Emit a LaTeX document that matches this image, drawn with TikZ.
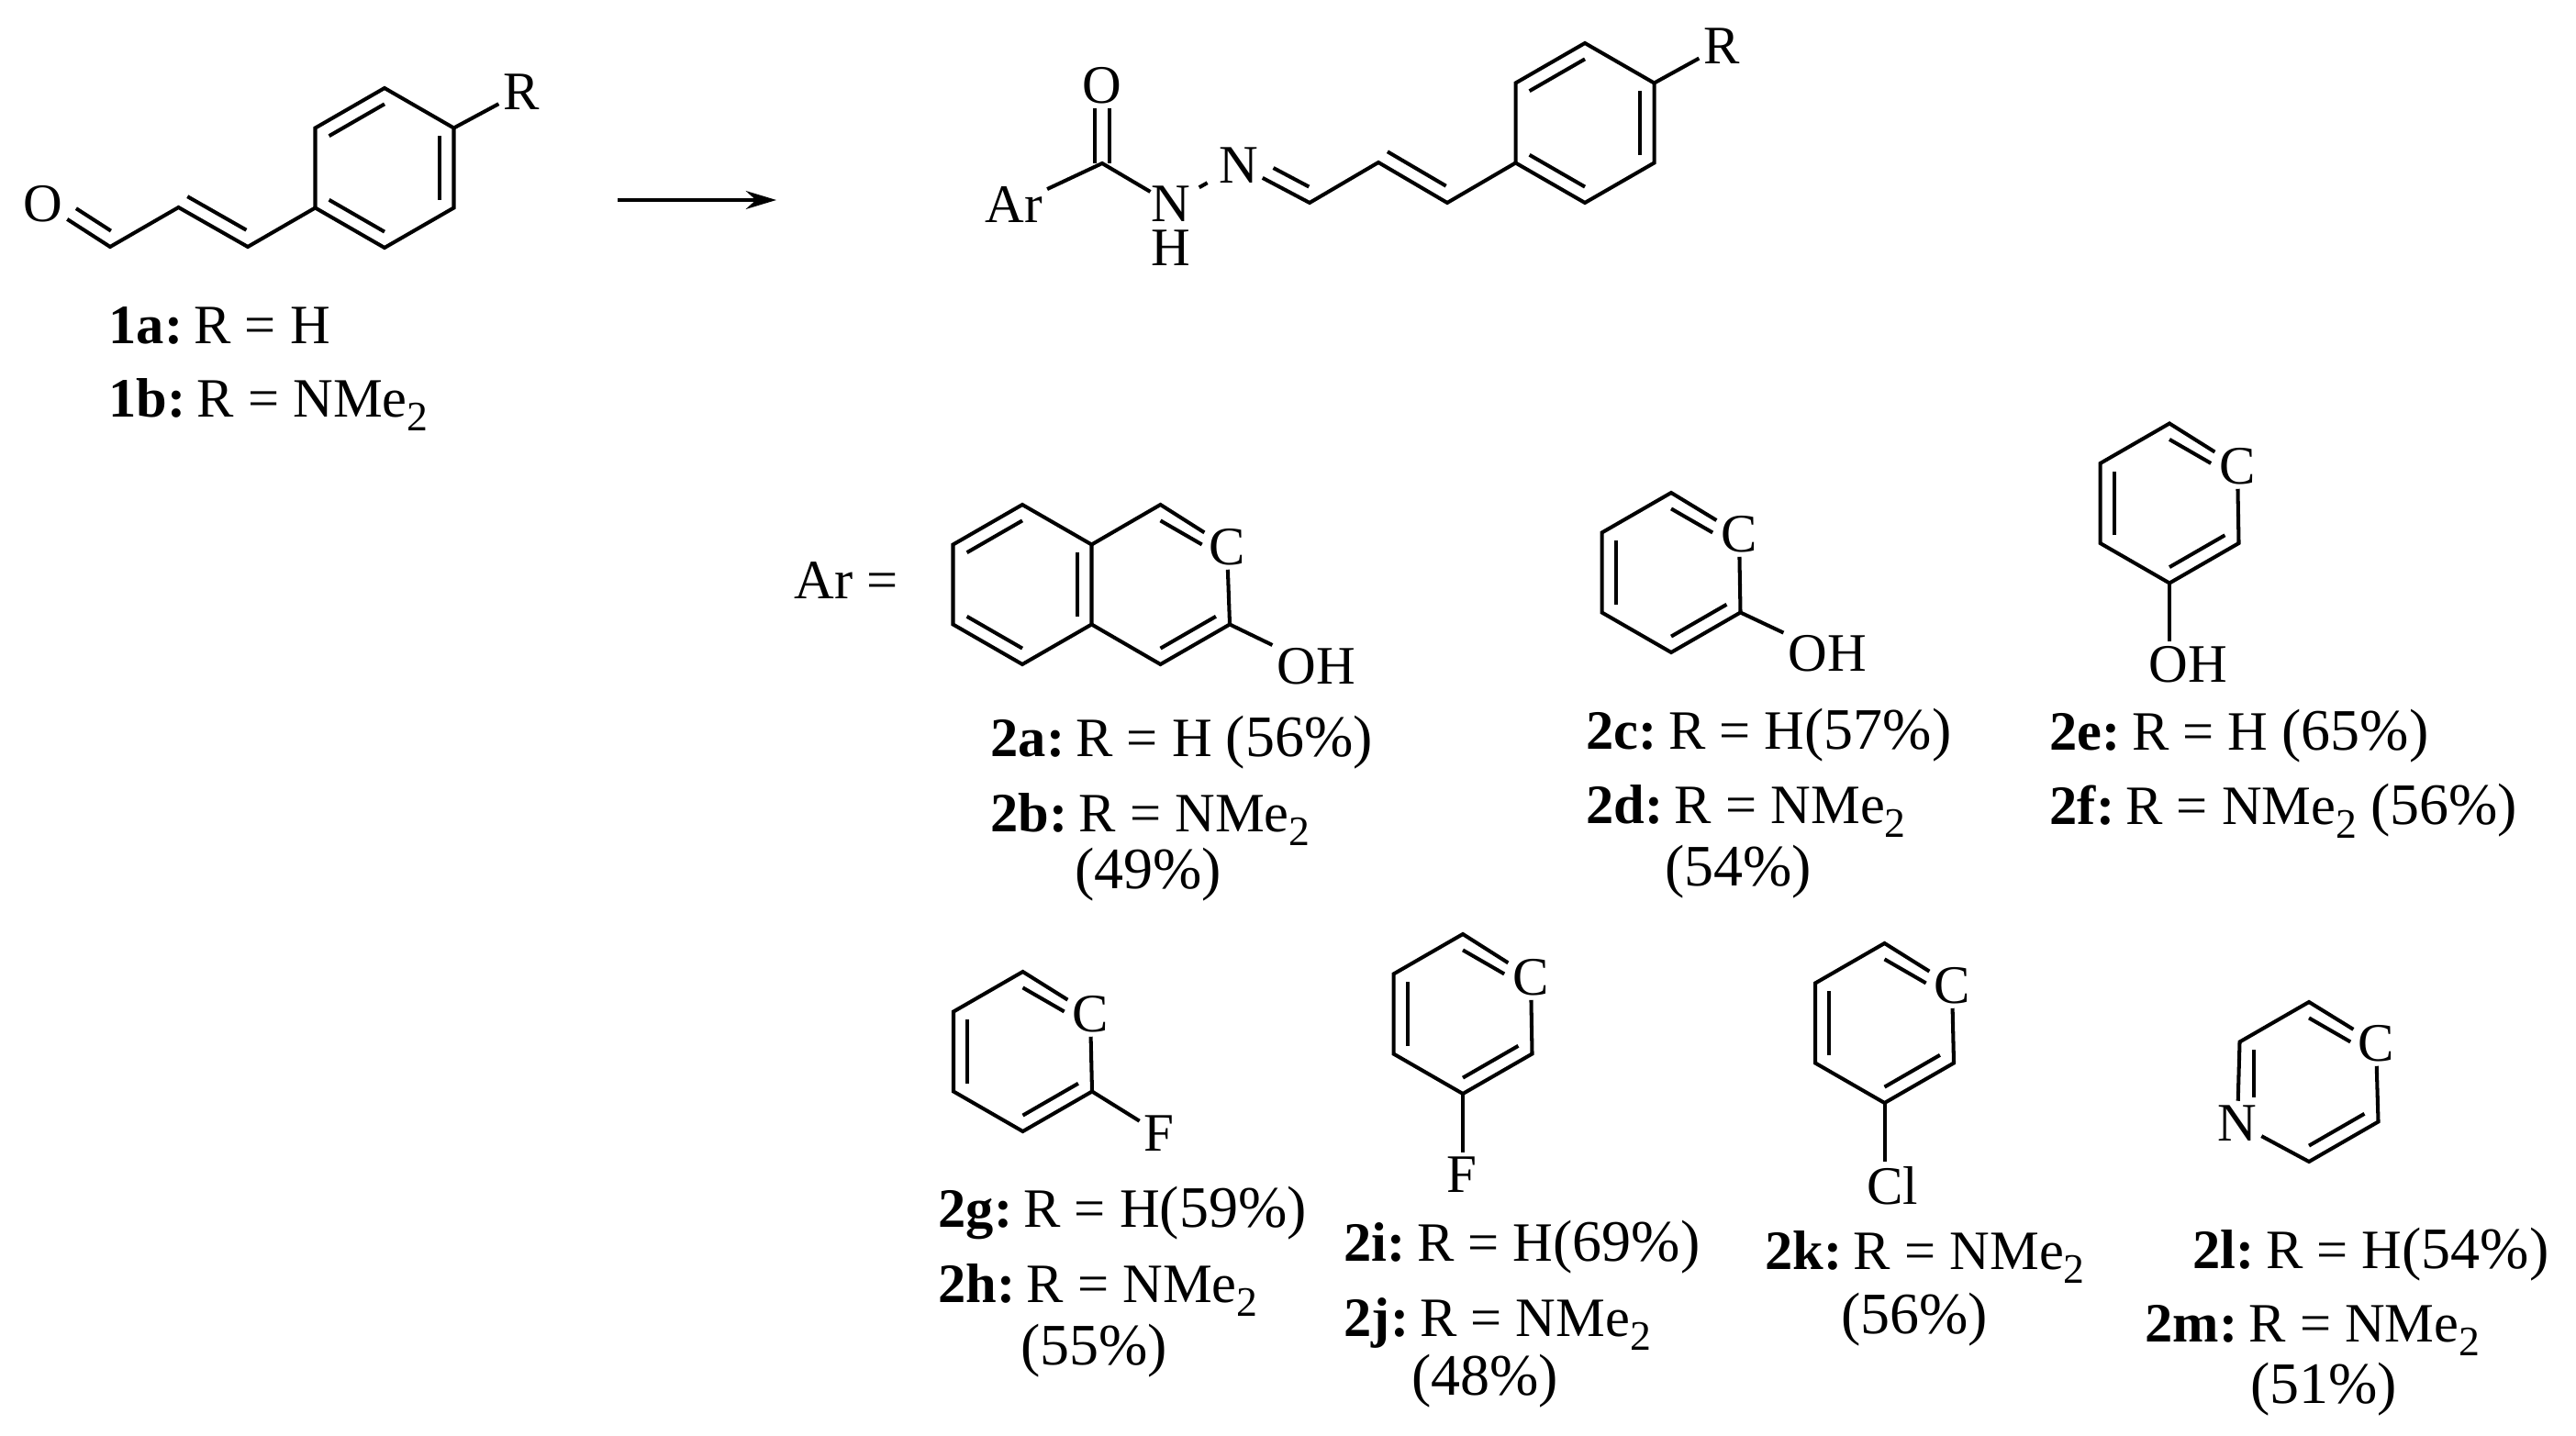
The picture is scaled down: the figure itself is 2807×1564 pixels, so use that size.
\documentclass[tikz,border=0pt]{standalone}
\usepackage{fontspec}
\setmainfont{Liberation Serif}
\usetikzlibrary{calc,arrows.meta}
\newcommand{\ringat}[3]{
\path (#2,#3) coordinate (#1mid)
  +(0,-87) coordinate (#1a) +(75.5,-43.5) coordinate (#1b)
  +(75.5,43.5) coordinate (#1c) +(0,87) coordinate (#1d)
  +(-75.5,43.5) coordinate (#1e) +(-75.5,-43.5) coordinate (#1f);
}
\newcommand{\inbond}[4][]{\draw[bond,#1] ($(#2mid)!.8!(#2#3)$) -- ($(#2mid)!.8!(#2#4)$);}
\newcommand{\sidebond}[5]{\draw[bond] ($(#1)!#3!(#2)!4.3pt!#5:(#2)$) -- ($(#1)!#4!(#2)!4.3pt!#5:(#2)$);}
\newcommand{\nmetwo}{NMe\raisebox{-4.3pt}{\fontsize{13}{13}\selectfont 2}}
\newcommand{\cmpd}[1]{\textbf{#1:}\hspace{.2em}}
\newcommand{\pct}[1]{{\fontsize{18.2}{18}\selectfont(#1\%)}}
\tikzset{
  bond/.style={line width=1.15pt},
  atom/.style={inner sep=1.2pt, font=\fontsize{16.8}{18}\selectfont},
  lab/.style={inner sep=0pt, anchor=base west, font=\fontsize{17.2}{18}\selectfont},
  yield/.style={inner sep=0pt, anchor=base, font=\fontsize{17.2}{18}\selectfont},
  shortc/.style={shorten >=5pt}
}
\begin{document}
\begin{tikzpicture}[x=.01cm,y=-.01cm]
\useasboundingbox (0,0) rectangle (2807,1564);

\ringat{p}{419}{183}
\coordinate (pc1) at (270,269);
\coordinate (pc2) at (194.5,226);
\coordinate (pc3) at (120,269);
\node[atom] (po) at (47,222) {O};
\node[atom] (pr) at (568,100) {R};
\draw[bond] (pa) -- (pb) -- (pc) -- (pd) -- (pe) -- (pf) -- cycle;
\inbond{p}{a}{f} \inbond{p}{b}{c} \inbond{p}{d}{e}
\draw[bond] (pe) -- (pc1) -- (pc2) -- (pc3) -- (po);
\draw[bond] (pb) -- (pr);
\sidebond{pc2}{pc1}{.03}{.88}{90}
\sidebond{pc3}{po}{.1}{.62}{-90}
\node[lab] (l1a) at (118,374) {\cmpd{1a}R = H};
\node[lab] (l1b) at (118,454) {\cmpd{1b}R = \nmetwo};

\coordinate (arrs) at (673,218);
\coordinate (arre) at (846,218);
\draw[line width=1.3pt,-{Stealth[length=9.4pt,width=5.6pt]}] (arrs) -- (arre);

\ringat{q}{1727}{134}
\coordinate (qc1) at (1577,221);
\coordinate (qc2) at (1502,177);
\coordinate (qc3) at (1427,221);
\coordinate (qco) at (1201,178);
\node[atom] (qr) at (1876,50) {R};
\node[atom] (qn) at (1349.5,180) {N};
\node[atom,inner sep=0pt] (qnh) at (1275.5,222) {N};
\node[atom,inner sep=0pt] (qh) at (1275.5,270) {H};
\node[atom] (qar) at (1105,223) {Ar};
\node[atom] (qo) at (1201,93) {O};
\draw[bond,double distance=3.4pt] (qco) -- (qo);
\draw[bond] (qa) -- (qb) -- (qc) -- (qd) -- (qe) -- (qf) -- cycle;
\inbond{q}{a}{f} \inbond{q}{b}{c} \inbond{q}{d}{e}
\draw[bond] (qe) -- (qc1) -- (qc2) -- (qc3) -- (qn);
\draw[bond] (qb) -- (qr);
\draw[bond,shorten <=3pt,shorten >=2.5pt] (qnh) -- (qn);
\draw[bond] (qnh) -- (qco) -- (qar);
\sidebond{qc2}{qc1}{.03}{.88}{90}
\sidebond{qc3}{qn}{.1}{.6}{-90}

\node[lab] (larl) at (865,652) {Ar =};

\ringat{u}{1114}{637}
\ringat{v}{1264.5}{637}
\node[atom] (vC) at (1337,596) {C};
\node[atom] (voh) at (1434,726) {OH};
\draw[bond] (ua) -- (ub) -- (uc) -- (ud) -- (ue) -- (uf) -- cycle;
\draw[bond] (ub) -- (va) -- (vC) -- (vc) -- (vd) -- (uc);
\draw[bond] (vc) -- (voh);
\inbond{u}{a}{f} \inbond{u}{b}{c} \inbond{u}{d}{e}
\inbond[shortc]{v}{a}{b} \inbond{v}{c}{d}
\node[lab] (l2a) at (1079,824) {\cmpd{2a}R = H \pct{56}};
\node[lab] (l2b) at (1079,906) {\cmpd{2b}R = \nmetwo};
\node[yield] (y2b) at (1251,968) {\pct{49}};

\ringat{c}{1821}{624}
\node[atom] (cC) at (1895,582) {C};
\node[atom] (coh) at (1991,712) {OH};
\draw[bond] (cC) -- (cc) -- (cd) -- (ce) -- (cf) -- (ca) -- (cC);
\draw[bond] (cc) -- (coh);
\inbond[shortc]{c}{a}{b} \inbond{c}{e}{f} \inbond{c}{c}{d}
\node[lab] (l2c) at (1728,816) {\cmpd{2c}R = H\pct{57}};
\node[lab] (l2d) at (1728,897) {\cmpd{2d}R = \nmetwo};
\node[yield] (y2d) at (1894,965) {\pct{54}};

\ringat{e}{2364}{548.5}
\node[atom] (eC) at (2438,508) {C};
\node[atom] (eoh) at (2384,724) {OH};
\draw[bond] (eC) -- (ec) -- (ed) -- (ee) -- (ef) -- (ea) -- (eC);
\draw[bond] (ed) -- (ed |- eoh.north);
\inbond[shortc]{e}{a}{b} \inbond{e}{e}{f} \inbond{e}{c}{d}
\node[lab] (l2e) at (2233,817) {\cmpd{2e}R = H \pct{65}};
\node[lab] (l2f) at (2233,898) {\cmpd{2f}R = \nmetwo{} \pct{56}};

\ringat{g}{1114.5}{1146}
\node[atom] (gC) at (1188,1105) {C};
\node[atom] (gx) at (1263,1235) {F};
\draw[bond] (gC) -- (gc) -- (gd) -- (ge) -- (gf) -- (ga) -- (gC);
\draw[bond] (gc) -- (gx);
\inbond[shortc]{g}{a}{b} \inbond{g}{e}{f} \inbond{g}{c}{d}
\node[lab] (l2g) at (1022,1337) {\cmpd{2g}R = H\pct{59}};
\node[lab] (l2h) at (1022,1419) {\cmpd{2h}R = \nmetwo};
\node[yield] (y2h) at (1192,1487) {\pct{55}};

\ringat{i}{1594}{1105}
\node[atom] (iC) at (1668,1065) {C};
\node[atom] (ix) at (1593,1280) {F};
\draw[bond] (iC) -- (ic) -- (id) -- (ie) -- (if) -- (ia) -- (iC);
\draw[bond] (id) -- (id |- ix.north);
\inbond[shortc]{i}{a}{b} \inbond{i}{e}{f} \inbond{i}{c}{d}
\node[lab] (l2i) at (1464,1374) {\cmpd{2i}R = H\pct{69}};
\node[lab] (l2j) at (1464,1456) {\cmpd{2j}R = \nmetwo};
\node[yield] (y2j) at (1618,1520) {\pct{48}};

\ringat{k}{2053.5}{1115}
\node[atom] (kC) at (2127,1074) {C};
\node[atom] (kx) at (2062,1292) {Cl};
\draw[bond] (kC) -- (kc) -- (kd) -- (ke) -- (kf) -- (ka) -- (kC);
\draw[bond] (kd) -- (kd |- kx.north);
\inbond[shortc]{k}{a}{b} \inbond{k}{e}{f} \inbond{k}{c}{d}
\node[lab] (l2k) at (1923,1383) {\cmpd{2k}R = \nmetwo};
\node[yield] (y2k) at (2086,1453) {\pct{56}};

\ringat{l}{2516}{1179}
\node[atom] (lC) at (2589,1137) {C};
\node[atom] (lN) at (2438,1224) {N};
\draw[bond] (lC) -- (lc) -- (ld) -- (lN) -- (lf) -- (la) -- (lC);
\inbond[shortc]{l}{a}{b} \inbond[shortc]{l}{f}{e} \inbond{l}{c}{d}
\node[lab] (l2l) at (2389,1382) {\cmpd{2l}R = H\pct{54}};
\node[lab] (l2m) at (2337,1462) {\cmpd{2m}R = \nmetwo};
\node[yield] (y2m) at (2532,1529) {\pct{51}};
\end{tikzpicture}
\end{document}
